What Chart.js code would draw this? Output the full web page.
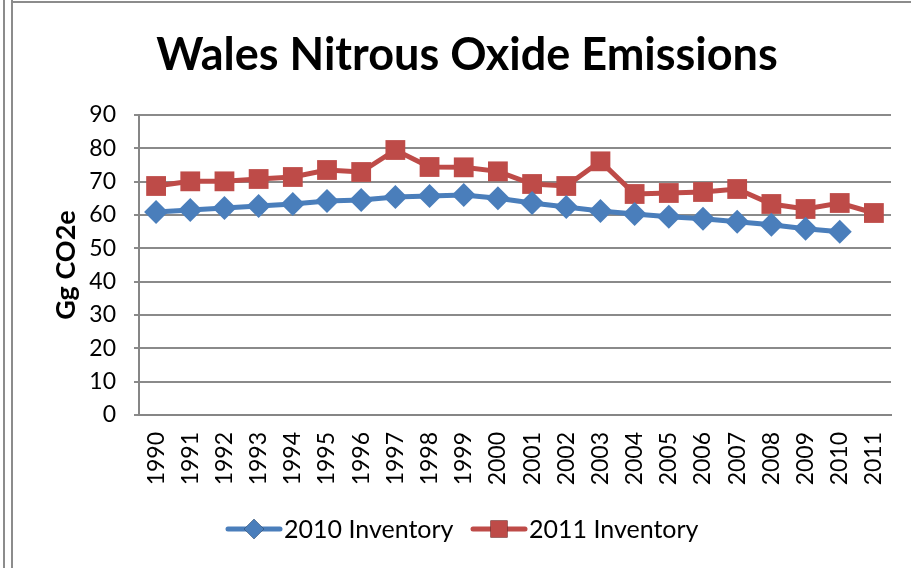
<!DOCTYPE html>
<html>
<head>
<meta charset="utf-8">
<script src="https://cdn.jsdelivr.net/npm/chart.js@4/dist/chart.umd.min.js"></script>
<style>
	html, body { margin: 0; padding: 0; background: #fff; }
	#wrap { position: relative; width: 911px; height: 568px; overflow: hidden; }
	#frame { position: absolute; left: 3px; top: 0; width: 10px; height: 568px; border-left: 2px solid #8c8c8c; border-right: 2px solid #8c8c8c; box-sizing: border-box; }
	#topline { position: absolute; left: 13px; top: 1px; right: 0; height: 2px; background: #8c8c8c; }
	canvas { position: absolute; left: 0; top: 0; }
</style>
</head>
<body>
<div id="wrap">
	<canvas id="emissionsChart" width="911" height="568"></canvas>
	<div id="frame"></div>
	<div id="topline"></div>
</div>
<script>
const years = ['1990','1991','1992','1993','1994','1995','1996','1997','1998','1999','2000',
	'2001','2002','2003','2004','2005','2006','2007','2008','2009','2010','2011'];
const inventory2010 = [60.9, 61.5, 62.1, 62.7, 63.3, 64.2, 64.5, 65.4, 65.7, 66.0, 65.0,
	63.6, 62.4, 61.2, 60.3, 59.5, 58.9, 58.0, 57.1, 55.9, 55.0, null];
const inventory2011 = [68.7, 70.1, 70.1, 70.8, 71.4, 73.5, 72.9, 79.5, 74.4, 74.3, 73.1,
	69.3, 68.7, 76.1, 66.3, 66.6, 66.9, 67.8, 63.3, 61.8, 63.6, 60.6];
const yTicks = [0, 10, 20, 30, 40, 50, 60, 70, 80, 90];

const fontFamily = 'Lato, "Open Sans", sans-serif';

// title and legend drawn by hand, like the office chart
const decorPlugin = {
	id: 'decor',
	afterDraw(chart) {
		const ctx = chart.ctx;
		ctx.save();
		ctx.fillStyle = '#000';
		ctx.font = 'bold 45px ' + fontFamily;
		ctx.textAlign = 'center';
		ctx.textBaseline = 'middle';
		ctx.fillText('Wales Nitrous Oxide Emissions', 467, 55);

		const entries = [
			{ ds: chart.data.datasets[0], x: 228 },
			{ ds: chart.data.datasets[1], x: 473 }
		];
		const y = 529;
		ctx.font = '25px ' + fontFamily;
		ctx.textAlign = 'left';
		entries.forEach(e => {
			ctx.strokeStyle = e.ds.borderColor;
			ctx.lineWidth = 5;
			ctx.lineCap = 'round';
			ctx.beginPath();
			ctx.moveTo(e.x, y);
			ctx.lineTo(e.x + 52, y);
			ctx.stroke();
			Chart.helpers.drawPoint(ctx, {
				pointStyle: e.ds.pointStyle,
				radius: e.ds.pointStyle === 'rect' ? 12 : 10,
				borderWidth: 0
			}, e.x + 26, y);
			ctx.fillStyle = e.ds.borderColor;
			ctx.fill();
			ctx.fillStyle = '#000';
			ctx.fillText(e.ds.label, e.x + 56, y + 1);
		});
		ctx.restore();
	}
};

const ctx = document.getElementById('emissionsChart').getContext('2d');
new Chart(ctx, {
	type: 'line',
	data: {
		labels: years,
		datasets: [
			{
				label: '2010 Inventory',
				data: inventory2010,
				borderColor: '#4A7EBB',
				backgroundColor: '#4A7EBB',
				borderWidth: 5,
				pointStyle: 'rectRot',
				pointRadius: 12,
				pointBorderWidth: 0,
				tension: 0,
				spanGaps: false
			},
			{
				label: '2011 Inventory',
				data: inventory2011,
				borderColor: '#BE4B48',
				backgroundColor: '#BE4B48',
				borderWidth: 5,
				pointStyle: 'rect',
				pointRadius: 14,
				pointBorderWidth: 0,
				tension: 0
			}
		]
	},
	options: {
		responsive: false,
		animation: false,
		layout: { padding: { left: 50, top: 115, right: 20, bottom: 70 } },
		plugins: {
			legend: { display: false },
			title: { display: false },
			tooltip: { enabled: false }
		},
		scales: {
			x: {
				offset: true,
				grid: { display: false, drawTicks: false },
				border: { display: true, color: '#868686', width: 2 },
				ticks: {
					autoSkip: false,
					maxRotation: 90,
					minRotation: 90,
					padding: 17,
					color: '#000',
					font: { family: fontFamily, size: 23 }
				},
				afterFit: scale => {
					scale.height = 83;
					scale.paddingLeft = 0;
					scale.paddingRight = 0;
				}
			},
			y: {
				min: 0,
				max: 90,
				afterBuildTicks: scale => { scale.ticks = yTicks.map(v => ({ value: v })); },
				grid: { color: '#8a8a8a', lineWidth: 2, tickLength: 5, drawTicks: true },
				border: { display: true, color: '#868686', width: 2 },
				ticks: {
					padding: 18,
					color: '#000',
					font: { family: fontFamily, size: 23 }
				},
				title: {
					display: true,
					text: 'Gg CO2e',
					color: '#000',
					font: { family: fontFamily, size: 27, weight: 'bold' },
					padding: 0
				},
				afterFit: scale => {
					scale.width = 139 - 50;
					scale.paddingTop = 0;
					scale.paddingBottom = 0;
				}
			}
		}
	},
	plugins: [decorPlugin]
});
</script>
</body>
</html>
